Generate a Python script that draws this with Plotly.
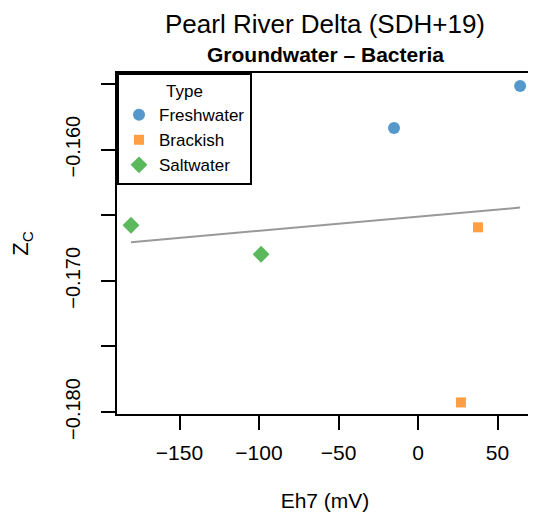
import numpy as np
import plotly.graph_objects as go

# Data
fresh_x = [64.2, -15.1]
fresh_y = [-0.15515, -0.15836]
brack_x = [37.7, 27.0]
brack_y = [-0.16592, -0.17927]
salt_x = [-180.5, -98.7]
salt_y = [-0.16576, -0.16798]

x_ticks = [-150, -100, -50, 0, 50]
x_ticktext = ["\u2212150", "\u2212100", "\u221250", "0", "50"]
y_ticks = [-0.160, -0.170, -0.180]
y_ticktext = ["\u22120.160", "\u22120.170", "\u22120.180"]
y_minor_ticks = [-0.155, -0.165, -0.175]

all_x = np.array(fresh_x + brack_x + salt_x)
all_y = np.array(fresh_y + brack_y + salt_y)
slope, intercept = np.polyfit(all_x, all_y, 1)
line_x = np.array([all_x.min(), all_x.max()])
line_y = slope * line_x + intercept

FONT = "Liberation Sans, Arial, Helvetica, sans-serif"

fig = go.Figure()
fig.add_trace(go.Scatter(x=line_x, y=line_y, mode="lines",
                         line=dict(color="#999999", width=2), showlegend=False,
                         hoverinfo="skip"))
fig.add_trace(go.Scatter(x=fresh_x, y=fresh_y, mode="markers", name="Freshwater",
                         marker=dict(symbol="circle", size=12, color="#5599CC")))
fig.add_trace(go.Scatter(x=brack_x, y=brack_y, mode="markers", name="Brackish",
                         marker=dict(symbol="square", size=10, color="#FF9F45")))
fig.add_trace(go.Scatter(x=salt_x, y=salt_y, mode="markers", name="Saltwater",
                         marker=dict(symbol="diamond", size=13, color="#5CB85C")))

# page body has an 8px margin, so the figure is sized/offset to compensate
fig.update_layout(
    width=528, height=509,
    margin=dict(l=109, r=3, t=65, b=103, autoexpand=False),
    paper_bgcolor="white", plot_bgcolor="white",
    font=dict(family=FONT, color="black", size=20),
    title=dict(text="Pearl River Delta (SDH+19)", xref="paper", x=0.5,
               xanchor="center", yref="container", y=1 - 16 / 509,
               yanchor="middle", font=dict(size=26)),
    showlegend=True,
    legend=dict(x=0, y=1, xanchor="left", yanchor="top",
                bordercolor="black", borderwidth=2, bgcolor="white",
                font=dict(size=17),
                title=dict(text="Type", side="top center", font=dict(size=17)),
                tracegroupgap=0, itemwidth=30),
    xaxis=dict(range=[-189.3, 72.3], tickmode="array", tickvals=x_ticks,
               ticktext=x_ticktext, automargin=False,
               showgrid=False, zeroline=False, showline=True, linecolor="black",
               linewidth=2, mirror=True, ticks="outside", ticklen=14, tickwidth=2,
               tickcolor="black", tickfont=dict(size=21), ticklabelstandoff=5,
               title=dict(text="Eh7 (mV)", font=dict(size=21), standoff=30)),
    yaxis=dict(range=[-0.18015, -0.15416], tickmode="array", tickvals=y_ticks,
               ticktext=y_ticktext, automargin=False,
               showgrid=False, zeroline=False, showline=True, linecolor="black",
               linewidth=2, mirror=True, ticks="outside", ticklen=14, tickwidth=2,
               tickcolor="black", tickangle=-90, tickfont=dict(size=20),
               ticklabelstandoff=13,
               minor=dict(tickmode="array", tickvals=y_minor_ticks, ticks="outside",
                          ticklen=14, tickwidth=2, tickcolor="black", showgrid=False),
               title=dict(text="Z<sub>C</sub>", font=dict(size=22), standoff=28)),
    annotations=[
        dict(text="<b>Groundwater \u2013 Bacteria</b>", xref="paper", yref="paper",
             x=0.5, y=(414 - 54) / 341, xanchor="center", yanchor="middle",
             showarrow=False, font=dict(size=21)),
    ],
)

fig.write_html("out.html")
